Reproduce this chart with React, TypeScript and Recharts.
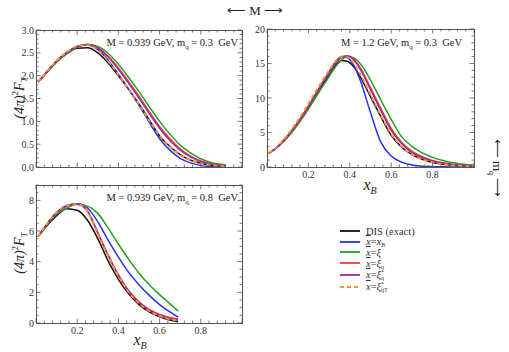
import React from "react";
import { LineChart, Line, XAxis, YAxis } from "recharts";

// ---- data: top-left panel (M = 0.939 GeV, mq = 0.3 GeV)
const xTL = [0.01, 0.05, 0.1, 0.15, 0.2, 0.25, 0.3, 0.35, 0.4, 0.45, 0.5, 0.55, 0.6, 0.65, 0.7, 0.75, 0.8, 0.85, 0.92];
const tlDis = [1.86, 2.06, 2.3, 2.48, 2.6, 2.61, 2.5, 2.28, 2.0, 1.7, 1.38, 1.03, 0.68, 0.45, 0.27, 0.15, 0.08, 0.04, 0.01];
const tlXb = [1.86, 2.07, 2.32, 2.51, 2.64, 2.67, 2.57, 2.34, 2.03, 1.7, 1.35, 0.98, 0.62, 0.37, 0.19, 0.09, 0.03, 0.01, 0.0];
const tlXi = [1.86, 2.06, 2.3, 2.48, 2.62, 2.68, 2.64, 2.49, 2.25, 1.96, 1.65, 1.32, 1.0, 0.72, 0.48, 0.31, 0.18, 0.1, 0.05];
const tlXiq = [1.86, 2.07, 2.32, 2.51, 2.64, 2.68, 2.61, 2.43, 2.17, 1.87, 1.55, 1.21, 0.89, 0.62, 0.4, 0.24, 0.13, 0.07, 0.03];
const tlXiqs = [1.86, 2.07, 2.32, 2.51, 2.64, 2.68, 2.6, 2.41, 2.14, 1.83, 1.51, 1.17, 0.85, 0.58, 0.37, 0.22, 0.12, 0.06, 0.03];
const tlXiqt = [1.86, 2.08, 2.33, 2.52, 2.65, 2.67, 2.56, 2.32, 2.02, 1.7, 1.37, 1.02, 0.69, 0.44, 0.26, 0.15, 0.08, 0.04, 0.02];

// ---- data: top-right panel (M = 1.2 GeV, mq = 0.3 GeV)
const xTR = [0.01, 0.05, 0.1, 0.15, 0.2, 0.25, 0.3, 0.33, 0.36, 0.39, 0.42, 0.45, 0.5, 0.55, 0.6, 0.65, 0.7, 0.75, 0.8, 0.85, 0.9, 0.95, 1.0];
const trDis = [2.0, 2.9, 4.5, 6.4, 8.6, 11.0, 13.3, 14.7, 15.45, 15.3, 14.5, 13.1, 10.2, 7.3, 4.6, 2.9, 1.8, 1.1, 0.65, 0.4, 0.25, 0.15, 0.1];
const trXb = [2.0, 2.9, 4.5, 6.5, 8.8, 11.3, 13.8, 15.2, 16.0, 15.8, 14.7, 12.6, 7.9, 3.6, 1.6, 0.7, 0.3, 0.12, 0.05, 0.02, 0.01, 0, 0];
const trXi = [2.0, 2.85, 4.3, 6.2, 8.4, 10.8, 13.1, 14.5, 15.5, 16.0, 15.8, 15.0, 12.6, 9.7, 6.9, 4.4, 3.0, 2.05, 1.4, 0.95, 0.6, 0.4, 0.28];
const trXiq = [2.0, 2.9, 4.5, 6.5, 8.8, 11.3, 13.7, 15.1, 15.9, 16.1, 15.6, 14.4, 11.5, 8.5, 5.6, 3.6, 2.3, 1.5, 0.95, 0.6, 0.38, 0.25, 0.17];
const trXiqs = [2.0, 2.9, 4.5, 6.5, 8.8, 11.3, 13.7, 15.1, 15.9, 16.1, 15.5, 14.2, 11.2, 8.2, 5.3, 3.4, 2.1, 1.35, 0.85, 0.55, 0.35, 0.23, 0.15];
const trXiqt = [2.0, 3.0, 4.7, 6.8, 9.2, 11.7, 14.0, 15.3, 16.0, 15.9, 15.0, 13.5, 10.5, 7.5, 4.8, 3.0, 1.8, 1.1, 0.65, 0.4, 0.25, 0.15, 0.1];

// ---- data: bottom-left panel (M = 0.939 GeV, mq = 0.8 GeV)
const xBL = [0.01, 0.05, 0.1, 0.15, 0.2, 0.25, 0.3, 0.35, 0.4, 0.45, 0.5, 0.55, 0.6, 0.65, 0.69];
const blDis = [5.63, 6.3, 7.0, 7.45, 7.35, 6.7, 5.5, 4.05, 2.85, 1.9, 1.2, 0.72, 0.4, 0.19, 0.09];
const blXb = [5.63, 6.4, 7.2, 7.65, 7.78, 7.5, 6.6, 5.4, 4.3, 3.3, 2.5, 1.8, 1.2, 0.72, 0.38];
const blXi = [5.63, 6.35, 7.1, 7.5, 7.74, 7.62, 7.15, 6.2, 5.15, 4.15, 3.25, 2.5, 1.85, 1.25, 0.78];
const blXiq = [5.63, 6.4, 7.2, 7.65, 7.74, 7.3, 5.9, 4.45, 3.15, 2.1, 1.38, 0.88, 0.56, 0.36, 0.26];
const blXiqs = [5.63, 6.4, 7.2, 7.65, 7.74, 7.28, 5.85, 4.4, 3.1, 2.05, 1.33, 0.83, 0.5, 0.3, 0.2];
const blXiqt = [5.63, 6.42, 7.22, 7.67, 7.74, 7.25, 5.8, 4.35, 3.05, 2.0, 1.28, 0.78, 0.45, 0.25, 0.15];

// ticks
const xMajor = [0, 0.2, 0.4, 0.6, 0.8, 1.0];
const xLabelTicks = [0.2, 0.4, 0.6, 0.8];
const yTL = [0, 0.5, 1.0, 1.5, 2.0, 2.5, 3.0];
const yTR = [0, 5, 10, 15, 20];
const yBL = [0, 2, 4, 6, 8];

const SERIES = [
  { key: "dis", color: "#111111", dash: undefined },
  { key: "xb", color: "#2233ee", dash: undefined },
  { key: "xi", color: "#22a022", dash: undefined },
  { key: "xiq", color: "#f03a3a", dash: undefined },
  { key: "xiqs", color: "#9a2a9a", dash: undefined },
  { key: "xiqt", color: "#f7962f", dash: "4 3" },
];

const toRows = (xs: number[], cols: number[][]) =>
  xs.map((x, i) => {
    const r: any = { x };
    SERIES.forEach((s, j) => (r[s.key] = cols[j][i]));
    return r;
  });

const FONT = "'Liberation Serif', 'Times New Roman', serif";
const INK = "#555";

const range = (a: number, b: number, step: number) => {
  const out: number[] = [];
  for (let v = a; v <= b + 1e-9; v += step) out.push(Math.round(v * 1000) / 1000);
  return out;
};
const isMajor = (v: number, majors: number[]) => majors.some((m) => Math.abs(m - v) < 1e-6);

// bottom ticks also draw the mirrored tick on the top frame, left ticks the right one
function tickFn(side: string, majors: number[], labels: number[] | null, span: number, fmt?: (v: number) => string) {
  return (p: any) => {
    const { x, y, payload } = p;
    const v = payload.value;
    const big = isMajor(v, majors);
    const len = big ? 4.5 : 2.5;
    const show = labels && labels.some((l) => Math.abs(l - v) < 1e-6);
    const txt = fmt ? fmt(v) : String(v);
    if (side === "bottom")
      return (
        <g>
          <line x1={x} x2={x} y1={y} y2={y - len} stroke={INK} strokeWidth={0.8} />
          <line x1={x} x2={x} y1={y - span} y2={y - span + len} stroke={INK} strokeWidth={0.8} />
          {show && (
            <text x={x} y={y + 11} textAnchor="middle" fontSize={10} fontFamily={FONT} fill="#333">{txt}</text>
          )}
        </g>
      );
    return (
      <g>
        <line x1={x} x2={x + len} y1={y} y2={y} stroke={INK} strokeWidth={0.8} />
        <line x1={x + span} x2={x + span - len} y1={y} y2={y} stroke={INK} strokeWidth={0.8} />
        {show && (
          <text x={x - 2} y={y + 3.5} textAnchor="end" fontSize={10} fontFamily={FONT} fill="#333">{txt}</text>
        )}
      </g>
    );
  };
}

function Panel({ px, py, pw, ph, rows, yMax, yMajor, yMinor, yFmt, xLabels }: any) {
  const lw = 30, bh = 20, mt = 8, mr = 6;
  const xTicks = range(0, 1, 0.04);
  const yTicks = range(0, yMax, yMinor);
  return (
    <>
      <div style={{ position: "absolute", left: px - lw, top: py - mt }}>
        <LineChart width={lw + pw + mr} height={mt + ph + bh} data={rows} margin={{ top: mt, right: mr, bottom: 0, left: 0 }}>
          <XAxis dataKey="x" type="number" domain={[0, 1]} allowDataOverflow ticks={xTicks} interval={0}
            height={bh} tickSize={0} tickMargin={0} tickLine={false} axisLine={false}
            tick={tickFn("bottom", xMajor, xLabels ? xLabelTicks : null, ph)} />
          <YAxis type="number" domain={[0, yMax]} allowDataOverflow ticks={yTicks} interval={0}
            width={lw} tickSize={0} tickMargin={0} tickLine={false} axisLine={false}
            tick={tickFn("left", yMajor, yMajor, pw, yFmt)} />
          {SERIES.map((s) => (
            <Line key={s.key} dataKey={s.key} type="monotone" stroke={s.color}
              strokeWidth={s.dash ? 1.8 : 1.5} strokeDasharray={s.dash} dot={false} isAnimationActive={false} />
          ))}
        </LineChart>
      </div>
      <div style={{ position: "absolute", left: px - 0.5, top: py - 0.5, width: pw + 1, height: ph + 1, border: `1px solid ${INK}`, boxSizing: "border-box", pointerEvents: "none" }} />
    </>
  );
}

const abs = (l: number, t: number, extra: any = {}) => ({ position: "absolute" as const, left: l, top: t, fontFamily: FONT, color: "#222", whiteSpace: "nowrap" as const, ...extra });

const YLabel = ({ cx, cy }: any) => (
  <div style={abs(cx - 40, cy - 9, { width: 80, height: 18, textAlign: "center", fontSize: 14, transform: "rotate(-90deg)", lineHeight: "18px" })}>
    <i>(4π)</i><sup style={{ fontSize: 9 }}>2</sup><i>F</i><sub style={{ fontSize: 9 }}><i>T</i></sub>
  </div>
);
const XLabel = ({ cx, cy }: any) => (
  <div style={abs(cx - 20, cy - 9, { width: 40, textAlign: "center", fontSize: 16, lineHeight: "18px" })}>
    <i>x</i><sub style={{ fontSize: 10 }}><i>B</i></sub>
  </div>
);
const Note = ({ right, cy, m, mq }: any) => (
  <div style={abs(right - 160, cy - 7, { width: 160, textAlign: "right", fontSize: 10.5, lineHeight: "14px" })}>
    M = {m} GeV, m<sub style={{ fontSize: 7, lineHeight: 0 }}>q</sub> = {mq}&nbsp; GeV
  </div>
);

const Xbar = () => <span style={{ textDecoration: "overline", fontStyle: "italic" }}>x</span>;
const Scripts = ({ sup, sub }: any) => (
  <span style={{ display: "inline-block", position: "relative", fontSize: 6, lineHeight: "6px", width: sub.length * 3.5 + 1, height: 6 }}>
    {sup && <span style={{ position: "absolute", left: 0, top: -3 }}>{sup}</span>}
    <span style={{ position: "absolute", left: 0, top: 3 }}>{sub}</span>
  </span>
);
const LEGEND = [
  <span>DIS (exact)</span>,
  <span><Xbar />=<i>x</i><Scripts sub="B" /></span>,
  <span><Xbar />=<i>ξ</i></span>,
  <span><Xbar />=<i>ξ</i><Scripts sub="q" /></span>,
  <span><Xbar />=<i>ξ</i><Scripts sup="*" sub="q" /></span>,
  <span><Xbar />=<i>ξ</i><Scripts sup="*" sub="qT" /></span>,
];
const LEGEND_Y = [231, 241.7, 252.3, 263, 274.6, 286.6];

export default function App() {
  return (
    <div style={{ position: "absolute", left: 0, top: 0, width: 509, height: 352, background: "#fff", overflow: "hidden" }}>
      <Panel px={36} py={30} pw={206} ph={137} rows={toRows(xTL, [tlDis, tlXb, tlXi, tlXiq, tlXiqs, tlXiqt])}
        yMax={3} yMajor={yTL} yMinor={0.1} yFmt={(v: number) => v.toFixed(1)} xLabels={false} />
      <Panel px={267} py={29} pw={207} ph={138} rows={toRows(xTR, [trDis, trXb, trXi, trXiq, trXiqs, trXiqt])}
        yMax={20} yMajor={yTR} yMinor={1} yFmt={(v: number) => String(v)} xLabels={true} />
      <Panel px={36} py={185} pw={206} ph={138} rows={toRows(xBL, [blDis, blXb, blXi, blXiq, blXiqs, blXiqt])}
        yMax={9} yMajor={yBL} yMinor={0.5} yFmt={(v: number) => String(v)} xLabels={true} />

      <div style={abs(205, 3, { width: 100, textAlign: "center", fontSize: 13, lineHeight: "16px" })}>⟵ M ⟶</div>
      <div style={abs(457, 160, { width: 80, textAlign: "center", fontSize: 13, lineHeight: "16px", transform: "rotate(90deg)" })}>
        ⟵ m<sub style={{ fontSize: 8, lineHeight: 0 }}>q</sub> ⟶
      </div>

      <YLabel cx={15} cy={98} />
      <YLabel cx={15} cy={253} />
      <XLabel cx={370} cy={185} />
      <XLabel cx={140} cy={340} />

      <Note right={238} cy={43} m="0.939" mq="0.3" />
      <Note right={462} cy={43} m="1.2" mq="0.3" />
      <Note right={238} cy={198} m="0.939" mq="0.8" />

      {LEGEND.map((label, i) => (
        <div key={i} style={abs(340, LEGEND_Y[i] - 5.5, { height: 11, fontSize: 10.5, lineHeight: "11px", display: "flex", alignItems: "center", color: "#333" })}>
          <svg width={22} height={6} style={{ marginRight: 4 }}>
            <line x1={0} x2={20} y1={3} y2={3} stroke={SERIES[i].color} strokeWidth={SERIES[i].dash ? 2 : 1.8}
              strokeDasharray={SERIES[i].dash} />
          </svg>
          {label}
        </div>
      ))}
    </div>
  );
}
